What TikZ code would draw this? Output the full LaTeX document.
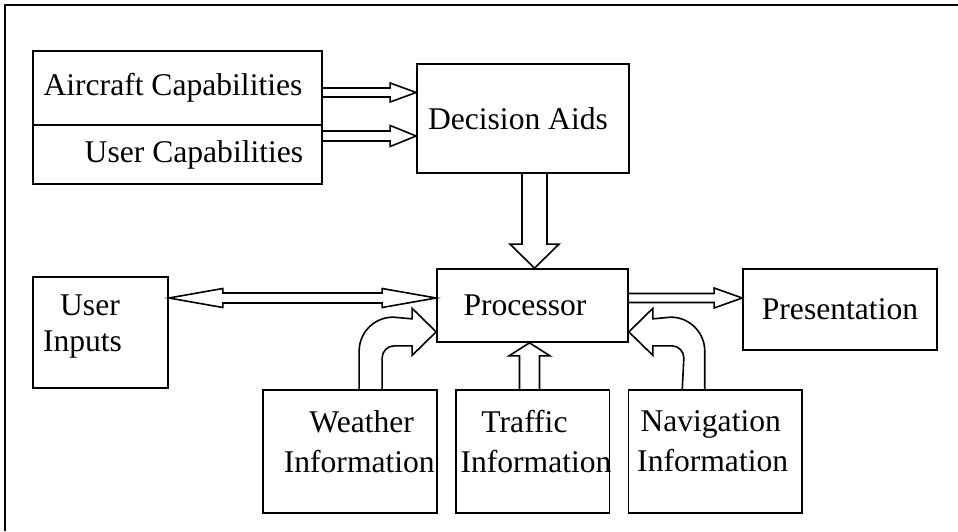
\documentclass[tikz,border=0pt]{standalone}
\usepackage{fontspec}
\setmainfont{Liberation Serif}
\usepackage{tikz}
\usetikzlibrary{calc}
\tikzset{
  box/.style   = {draw, rectangle, line width=1.7pt, inner sep=0pt,
                  font=\fontsize{31.6}{36}\selectfont},
  info/.style  = {box, minimum width=#1, minimum height=123pt, align=center,
                  text depth=20pt, font=\fontsize{31.6}{40}\selectfont},
  blk/.style   = {draw, line width=1.6pt, line join=miter},
  frame/.style = {line width=2pt}
}
% shift a line of text sideways without changing its width
\newcommand{\nudge}[2]{\hspace*{#1}#2\hspace*{-#1}}
% hollow block arrow: from, to, shaft half width, head half width, head length
\newcommand{\blockarrow}[5]{%
  \draw[blk] ($(#1)!#3!90:(#2)$) -- ($(#2)!#5!(#1)!#3!90:(#2)$)
    -- ($(#2)!#5!(#1)!#4!90:(#2)$) -- (#2)
    -- ($(#2)!#5!(#1)!#4!-90:(#2)$) -- ($(#2)!#5!(#1)!#3!-90:(#2)$)
    -- ($(#1)!#3!-90:(#2)$);}
\newcommand{\dblockarrow}[5]{%
  \draw[blk] ($(#1)!#5!(#2)!#3!90:(#2)$) -- ($(#2)!#5!(#1)!#3!90:(#2)$)
    -- ($(#2)!#5!(#1)!#4!90:(#2)$) -- (#2)
    -- ($(#2)!#5!(#1)!#4!-90:(#2)$) -- ($(#2)!#5!(#1)!#3!-90:(#2)$)
    -- ($(#1)!#5!(#2)!#3!-90:(#2)$) -- ($(#1)!#5!(#2)!#4!-90:(#2)$)
    -- (#1) -- ($(#1)!#5!(#2)!#4!90:(#2)$) -- cycle;}

\begin{document}
\begin{tikzpicture}[x=1pt,y=1pt]
  \useasboundingbox (0,0) rectangle (958,531);
  \draw[frame] (5,0) -- (5,526) -- (958,526);

  \node[box, minimum width=289pt, minimum height=74pt] (aircraft) at (177.5,443)
    {\nudge{-4.5pt}{Aircraft Capabilities}};
  \node[box, minimum width=289pt, minimum height=59pt] (usercap) at (177.5,376.5)
    {\raisebox{-6pt}{\nudge{16.5pt}{User Capabilities}}};
  \node[box, minimum width=212pt, minimum height=109pt] (decision) at (523,412.5)
    {\nudge{-5pt}{Decision Aids}};
  \node[box, minimum width=191pt, minimum height=73pt] (proc) at (532.5,225.5)
    {\nudge{-7.5pt}{Processor}};
  \node[box, minimum width=194pt, minimum height=81pt] (present) at (840,221.5)
    {Presentation};
  \node[box, minimum width=135pt, minimum height=111pt, align=center,
        text depth=18pt] (userin) at (100.5,198.5)
    {\nudge{-10.5pt}{User}\\\nudge{-18pt}{Inputs}};
  \node[info=174pt] (weather) at (350,79.5)
    {\nudge{11.7pt}{Weather}\\\nudge{9.3pt}{Information}};
  \node[info=153.6pt] (traffic) at (532.8,79.5)
    {\nudge{-8.3pt}{Traffic}\\\nudge{3.2pt}{Information}};
  \node[info=173.2pt] (navig) at (715.2,79.5)
    {\nudge{-4.5pt}{Navigation}\\\nudge{-2.5pt}{Information}};

  \coordinate (ac1) at ([yshift=-4.5pt]aircraft.east);
  \coordinate (ac2) at (ac1 -| decision.west);
  \blockarrow{ac1}{ac2}{4.5pt}{9.5pt}{26pt}
  \coordinate (uc1) at ([yshift=18.5pt]usercap.east);
  \coordinate (uc2) at (uc1 -| decision.west);
  \blockarrow{uc1}{uc2}{5pt}{10.5pt}{26pt}
  \coordinate (da1) at ([xshift=11.5pt]decision.south);
  \coordinate (da2) at (da1 |- proc.north);
  \blockarrow{da1}{da2}{12.5pt}{24.5pt}{24pt}
  \coordinate (pr1) at ([yshift=7.5pt]proc.east);
  \coordinate (pr2) at (pr1 -| present.west);
  \blockarrow{pr1}{pr2}{4.5pt}{10pt}{28pt}
  \coordinate (ui1) at ([yshift=34.5pt]userin.east);
  \coordinate (ui2) at (ui1 -| proc.west);
  \dblockarrow{ui1}{ui2}{5pt}{9.5pt}{54pt}
  \coordinate (tr1) at ([xshift=-3.3pt]traffic.north);
  \coordinate (tr2) at (tr1 |- proc.south);
  \blockarrow{tr1}{tr2}{10pt}{20.5pt}{13pt}

  % bent arrows into the processor
  \coordinate (wtip) at ([yshift=11pt]proc.south west);
  \draw[blk] ([xshift=97pt]weather.north west) -- ++(0,38)
    arc[start angle=180, end angle=90, radius=34pt] -- ([xshift=-24pt,yshift=13pt]wtip)
    -- ++(0,10.5) -- (wtip) -- ++(-24,-23.5) -- ++(0,9.5) -- ++(-18,0)
    arc[start angle=90, end angle=180, radius=12pt] -- ([xshift=120pt]weather.north west);
  \coordinate (ntip) at ([yshift=11pt]proc.south east);
  \draw[blk] ([xshift=77pt]navig.north west) -- ++(0,38)
    arc[start angle=0, end angle=90, radius=34pt] -- ([xshift=24pt,yshift=13pt]ntip)
    -- ++(0,10.5) -- (ntip) -- ++(24,-23.5) -- ++(0,9.5) -- ++(19,0)
    arc[start angle=90, end angle=0, radius=12pt] -- ([xshift=54.5pt]navig.north west);
\end{tikzpicture}
\end{document}
